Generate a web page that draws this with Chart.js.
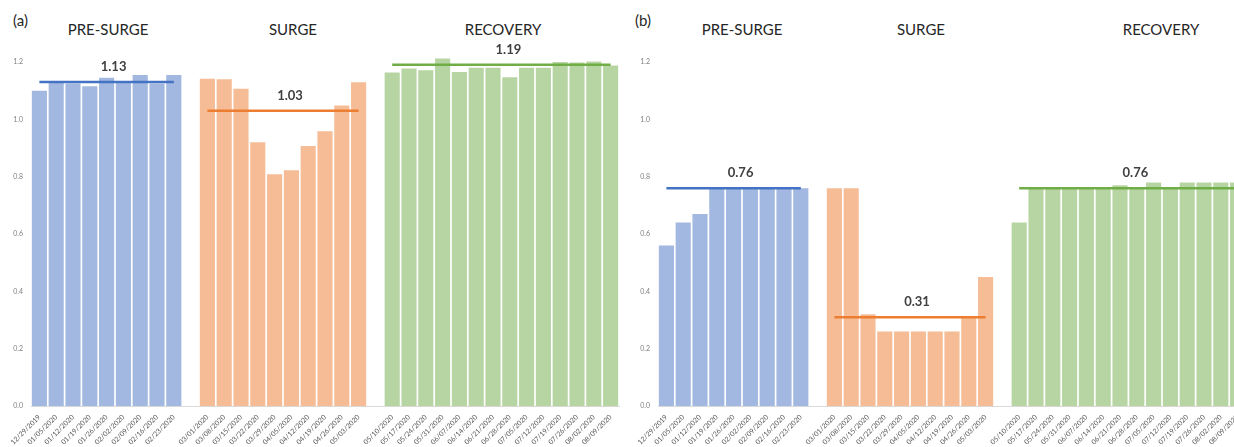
<!DOCTYPE html>
<html>
<head>
<meta charset="utf-8">
<script src="https://cdn.jsdelivr.net/npm/chart.js@4.4.0/dist/chart.umd.min.js"></script>
<style>
  body { margin: 0; width: 1234px; height: 447px; overflow: hidden; background: #fff; position: relative; font-family: Lato, sans-serif; }
  .panel { position: absolute; top: 0; width: 625px; height: 447px; }
  .title { position: absolute; top: 20px; width: 140px; text-align: center; font-size: 15px; line-height: 18px; color: #262626; }
  .tag { position: absolute; top: 11px; font-size: 15px; line-height: 18px; color: #262626; }
</style>
</head>
<body>
<div class="tag" style="left:13px">(a)</div>
<div class="tag" style="left:635px">(b)</div>
<div class="title" style="left:38px">PRE-SURGE</div>
<div class="title" style="left:223px">SURGE</div>
<div class="title" style="left:433px">RECOVERY</div>
<div class="title" style="left:672px">PRE-SURGE</div>
<div class="title" style="left:851px">SURGE</div>
<div class="title" style="left:1091px">RECOVERY</div>

<div class="panel" style="left:0"><canvas id="chartA" width="625" height="447"></canvas></div>
<div class="panel" style="left:627px"><canvas id="chartB" width="625" height="447"></canvas></div>

<script>
  const preDates = ['12/29/2019', '01/05/2020', '01/12/2020', '01/19/2020', '01/26/2020', '02/02/2020', '02/09/2020', '02/16/2020', '02/23/2020'];
  const surgeDates = ['03/01/2020', '03/08/2020', '03/15/2020', '03/22/2020', '03/29/2020', '04/05/2020', '04/12/2020', '04/19/2020', '04/26/2020', '05/03/2020'];
  const recoveryDates = ['05/10/2020', '05/17/2020', '05/24/2020', '05/31/2020', '06/07/2020', '06/14/2020', '06/21/2020', '06/28/2020', '07/05/2020', '07/12/2020', '07/19/2020', '07/26/2020', '08/02/2020', '08/09/2020'];
  const dateLabels = [...preDates, '', ...surgeDates, '', ...recoveryDates];

  // panel (a)
  const preA = [1.10, 1.13, 1.125, 1.115, 1.145, 1.13, 1.155, 1.125, 1.155];
  const surgeA = [1.142, 1.14, 1.107, 0.92, 0.808, 0.822, 0.907, 0.958, 1.048, 1.129];
  const recoveryA = [1.163, 1.177, 1.171, 1.212, 1.165, 1.18, 1.18, 1.147, 1.18, 1.18, 1.2, 1.198, 1.202, 1.188];
  const meansA = [1.13, 1.03, 1.19];

  // panel (b)
  const preB = [0.56, 0.64, 0.67, 0.76, 0.76, 0.76, 0.76, 0.76, 0.76];
  const surgeB = [0.76, 0.76, 0.32, 0.26, 0.26, 0.26, 0.26, 0.26, 0.31, 0.45];
  const recoveryB = [0.64, 0.76, 0.76, 0.76, 0.76, 0.76, 0.77, 0.76, 0.78, 0.76, 0.78, 0.78, 0.78, 0.78];
  const meansB = [0.76, 0.31, 0.76];

  const yTicks = [0, 0.2, 0.4, 0.6, 0.8, 1.0, 1.2];

  const barColors = ['#a2b8e0', '#f5bc96', '#b7d5a2'];
  const lineColors = ['#4472c4', '#ed7d31', '#70ad47'];
  const starts = [0, preDates.length + 1, preDates.length + surgeDates.length + 2];

  function place(values, start) {
    const out = dateLabels.map(() => null);
    values.forEach((v, i) => { out[start + i] = v; });
    return out;
  }

  const meanLabels = {
    id: 'meanLabels',
    afterDatasetsDraw(chart) {
      const ctx = chart.ctx;
      ctx.save();
      ctx.font = 'bold 13px Lato';
      ctx.fillStyle = '#404040';
      ctx.textAlign = 'center';
      ctx.textBaseline = 'middle';
      chart.data.datasets.forEach((ds, i) => {
        if (ds.type !== 'line') return;
        const pts = chart.getDatasetMeta(i).data.filter((p, j) => ds.data[j] !== null);
        const x = (pts[0].x + pts[pts.length - 1].x) / 2 + 7;
        ctx.fillText(ds.label, x, pts[0].y - 15);
      });
      ctx.restore();
    }
  };

  function makeChart(id, groups, means) {
    const datasets = [];
    groups.forEach((vals, g) => {
      datasets.push({
        type: 'line',
        label: means[g].toFixed(2),
        data: place(vals.map(() => means[g]), starts[g]),
        borderColor: lineColors[g],
        borderWidth: 2.5,
        pointRadius: 0,
        fill: false,
        order: 0
      });
    });
    groups.forEach((vals, g) => {
      datasets.push({
        type: 'bar',
        label: 'bars' + g,
        data: place(vals, starts[g]),
        backgroundColor: barColors[g],
        grouped: false,
        barPercentage: 0.9,
        categoryPercentage: 1.0,
        clip: false,
        order: 1
      });
    });

    return new Chart(document.getElementById(id), {
      type: 'bar',
      data: { labels: dateLabels, datasets },
      options: {
        responsive: false,
        devicePixelRatio: 1,
        animation: false,
        layout: { padding: { top: 62, right: 6, bottom: 0, left: 0 } },
        scales: {
          x: {
            grid: { display: false, drawTicks: false },
            border: { display: true, color: '#d9d9d9', width: 1 },
            ticks: {
              autoSkip: false,
              minRotation: 45,
              maxRotation: 45,
              padding: 7,
              color: '#595959',
              font: { family: 'Lato', size: 7 }
            },
            afterFit: (s) => { s.height = 41; }
          },
          y: {
            min: 0,
            max: 1.2,
            grid: { display: false, drawTicks: false },
            border: { display: false },
            ticks: {
              padding: 8,
              color: '#808080',
              font: { family: 'Lato', size: 7 },
              callback: (v) => Number(v).toFixed(1)
            },
            afterBuildTicks: (s) => { s.ticks = yTicks.map(v => ({ value: v })); },
            afterFit: (s) => { s.width = 31; }
          }
        },
        plugins: {
          legend: { display: false },
          tooltip: { enabled: false }
        }
      },
      plugins: [meanLabels]
    });
  }

  makeChart('chartA', [preA, surgeA, recoveryA], meansA);
  makeChart('chartB', [preB, surgeB, recoveryB], meansB);
</script>
</body>
</html>
